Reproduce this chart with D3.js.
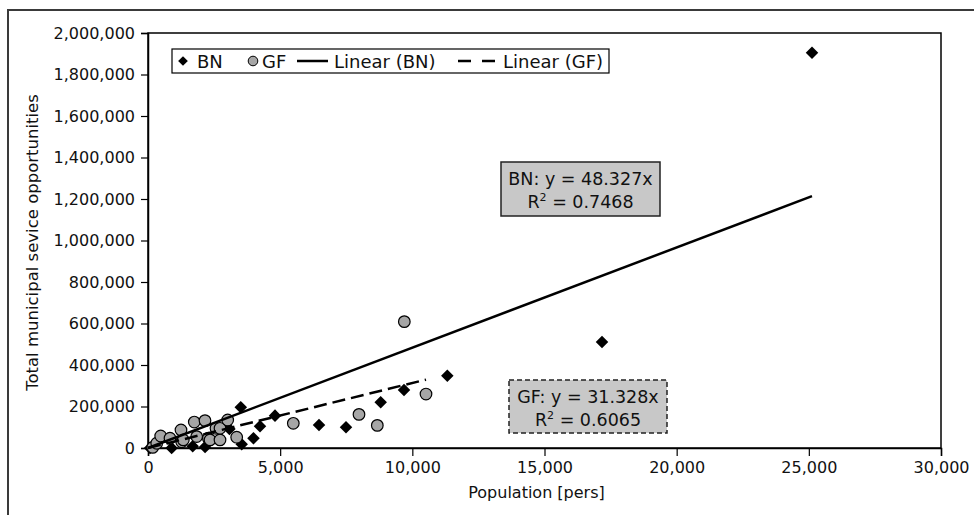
<!DOCTYPE html>
<html>
<head>
<meta charset="utf-8">
<script src="https://cdn.jsdelivr.net/npm/d3@7"></script>
<style>
  body { margin: 0; background: #fff; }
  svg { display: block; font-family: "DejaVu Sans", sans-serif; }
</style>
</head>
<body>
<script>
// BN series (population, service opportunities)
const bnPop = [76, 895, 1690, 2160, 3080, 3510, 3544, 3990, 4237, 4805, 6470, 7490, 8803, 9685, 11323, 17175, 25120];
const bnVal = [0, 0, 8000, 5000, 92000, 196000, 18000, 47000, 105000, 156000, 111000, 100000, 220000, 280000, 348000, 511000, 1905000];

// GF series
const gfPop = [177, 330, 480, 832, 1248, 1274, 1336, 1751, 1842, 2156, 2283, 2346, 2572, 2724, 2724, 3015, 3355, 5497, 7982, 8675, 9697, 10517];
const gfVal = [3000, 23000, 58000, 47000, 87000, 30000, 39000, 125000, 55000, 132000, 47000, 39000, 95000, 39000, 95000, 135000, 52000, 119000, 162000, 109000, 609000, 260000];

// trend lines (through origin)
const bnSlope = 48.327, bnR2 = "0.7468";
const gfSlope = 31.328, gfR2 = "0.6065";

const xTicks = [0, 5000, 10000, 15000, 20000, 25000, 30000];
const yTicks = d3.range(0, 2000001, 200000);

const width = 974, height = 515;
const margin = {top: 33, right: 33, bottom: 67, left: 148};

const svg = d3.select("body").append("svg")
    .attr("width", width)
    .attr("height", height);

// outer chart border (cut off at right/bottom like the picture)
svg.append("rect")
    .attr("x", 8).attr("y", 10)
    .attr("width", 990).attr("height", 540)
    .attr("fill", "none")
    .attr("stroke", "#3a3a3a")
    .attr("stroke-width", 2);

const x = d3.scaleLinear().domain([0, 30000]).range([margin.left, width - margin.right]);
const y = d3.scaleLinear().domain([0, 2000000]).range([height - margin.bottom, margin.top]);

// plot area box
svg.append("rect")
    .attr("x", x(0)).attr("y", y(2000000))
    .attr("width", x(30000) - x(0))
    .attr("height", y(0) - y(2000000))
    .attr("fill", "none")
    .attr("stroke", "#000")
    .attr("stroke-width", 1.5);

// axes
const fmt = d3.format(",");
const xAxis = svg.append("g")
    .attr("transform", `translate(0,${y(0)})`)
    .call(d3.axisBottom(x).tickValues(xTicks).tickFormat(fmt).tickSize(8).tickPadding(6));
const yAxis = svg.append("g")
    .attr("transform", `translate(${x(0)},0)`)
    .call(d3.axisLeft(y).tickValues(yTicks).tickFormat(fmt).tickSize(7).tickPadding(6));

[xAxis, yAxis].forEach(g => {
    g.select(".domain").attr("stroke", "#000").attr("stroke-width", 1.5);
    g.selectAll(".tick line").attr("stroke", "#000").attr("stroke-width", 1.2);
    g.selectAll(".tick text")
        .attr("fill", "#111")
        .style("font-size", "16px")
        .style("font-family", "'DejaVu Sans', sans-serif");
});

// axis titles
svg.append("text")
    .attr("x", (x(0) + x(30000)) / 2 - 8)
    .attr("y", 498)
    .attr("text-anchor", "middle")
    .style("font-size", "16px")
    .attr("fill", "#111")
    .text("Population [pers]");

svg.append("text")
    .attr("transform", `translate(33,${(y(0) + y(2000000)) / 2 + 2}) rotate(-90)`)
    .attr("text-anchor", "middle")
    .attr("dominant-baseline", "middle")
    .style("font-size", "16.5px")
    .attr("fill", "#111")
    .text("Total municipal sevice opportunities");

// data sets
const bn = bnPop.map((p, i) => [p, bnVal[i]]);
const gf = gfPop.map((p, i) => [p, gfVal[i]]);

const diamond = d3.symbol().type(d3.symbolDiamond2).size(100);

svg.selectAll(".dot-bn")
    .data(bn)
    .enter().append("path")
    .attr("class", "dot-bn")
    .attr("d", diamond)
    .attr("transform", d => `translate(${x(d[0])},${y(d[1])})`)
    .attr("fill", "#000");

svg.selectAll(".dot-gf")
    .data(gf)
    .enter().append("circle")
    .attr("class", "dot-gf")
    .attr("cx", d => x(d[0]))
    .attr("cy", d => y(d[1]))
    .attr("r", 5.8)
    .attr("fill", "#a6a6a6")
    .attr("stroke", "#000")
    .attr("stroke-width", 1.2);

// trend lines
const line = d3.line().x(d => x(d[0])).y(d => y(d[1]));
const bnMax = d3.max(bnPop), gfMax = d3.max(gfPop);

svg.append("path")
    .datum([[0, 0], [bnMax, bnMax * bnSlope]])
    .attr("d", line)
    .attr("fill", "none")
    .attr("stroke", "#000")
    .attr("stroke-width", 2.5);

svg.append("path")
    .datum([[0, 0], [gfMax, gfMax * gfSlope]])
    .attr("d", line)
    .attr("fill", "none")
    .attr("stroke", "#000")
    .attr("stroke-width", 2.5)
    .attr("stroke-dasharray", "13,6");

// equation boxes
const addEquation = (series, slope, r2, box, dashed) => {
    const g = svg.append("g");
    g.append("rect")
        .attr("x", box.x).attr("y", box.y)
        .attr("width", box.w).attr("height", box.h)
        .attr("fill", "#c8c8c8")
        .attr("stroke", "#222")
        .attr("stroke-width", 1.5)
        .attr("stroke-dasharray", dashed ? "5,3" : null);
    const cx = box.x + box.w / 2;
    g.append("text")
        .attr("x", cx).attr("y", box.y + 23)
        .attr("text-anchor", "middle")
        .style("font-size", "17.5px")
        .attr("fill", "#111")
        .text(`${series}: y = ${slope.toFixed(3)}x`);
    const t = g.append("text")
        .attr("x", cx).attr("y", box.y + 46)
        .attr("text-anchor", "middle")
        .style("font-size", "17.5px")
        .attr("fill", "#111");
    t.append("tspan").text("R");
    t.append("tspan").attr("dy", -7).style("font-size", "11px").text("2");
    t.append("tspan").attr("dy", 7).text(` = ${r2}`);
};
addEquation("BN", bnSlope, bnR2, {x: 501, y: 162, w: 159, h: 54}, false);
addEquation("GF", gfSlope, gfR2, {x: 509, y: 380, w: 158, h: 53}, true);

// legend
const legend = svg.append("g");
legend.append("rect")
    .attr("x", 172).attr("y", 49)
    .attr("width", 437).attr("height", 24)
    .attr("fill", "#fff")
    .attr("stroke", "#000")
    .attr("stroke-width", 1.2);

const ly = 61;
legend.append("path")
    .attr("d", d3.symbol().type(d3.symbolDiamond2).size(60))
    .attr("transform", `translate(183,${ly})`)
    .attr("fill", "#000");
legend.append("circle")
    .attr("cx", 253).attr("cy", ly).attr("r", 4.8)
    .attr("fill", "#a6a6a6").attr("stroke", "#000").attr("stroke-width", 1);
legend.append("line")
    .attr("x1", 297).attr("x2", 328).attr("y1", ly).attr("y2", ly)
    .attr("stroke", "#000").attr("stroke-width", 2.5);
legend.append("line")
    .attr("x1", 458).attr("x2", 497).attr("y1", ly).attr("y2", ly)
    .attr("stroke", "#000").attr("stroke-width", 2.5)
    .attr("stroke-dasharray", "13,11");

const legendItems = [
    {label: "BN", x: 197},
    {label: "GF", x: 262},
    {label: "Linear (BN)", x: 334},
    {label: "Linear (GF)", x: 503}
];
legendItems.forEach(item => {
    legend.append("text")
        .attr("x", item.x).attr("y", ly)
        .attr("dominant-baseline", "central")
        .style("font-size", "18px")
        .attr("fill", "#111")
        .text(item.label);
});
</script>
</body>
</html>
